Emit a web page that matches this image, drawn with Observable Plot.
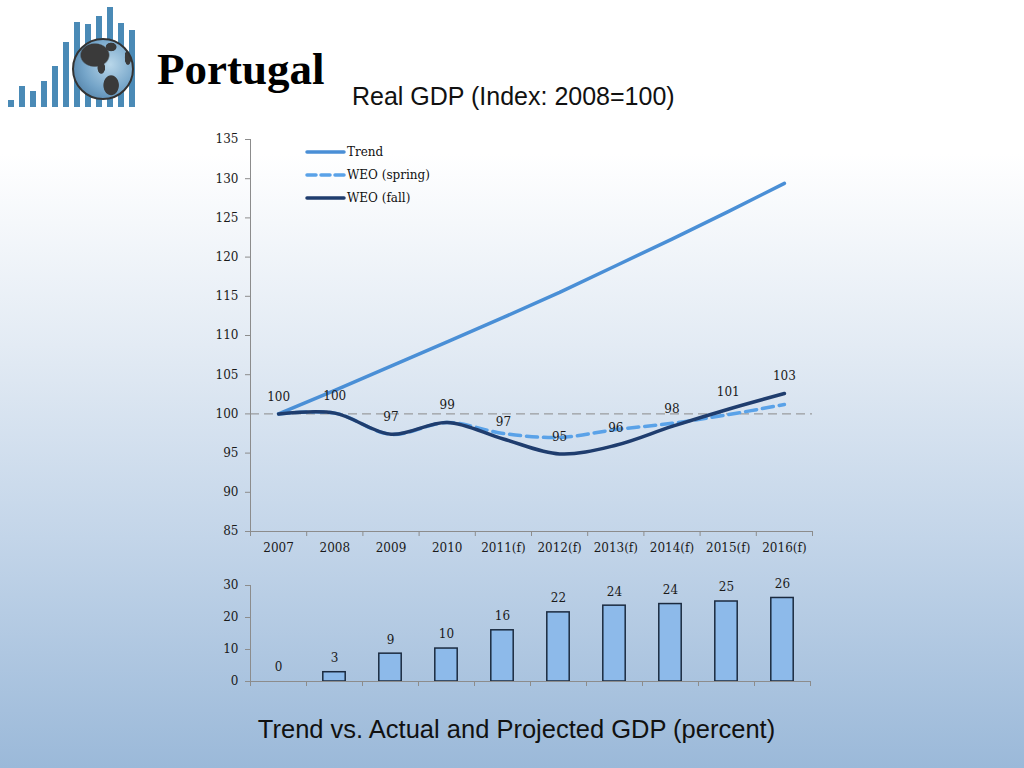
<!DOCTYPE html>
<html><head><meta charset="utf-8">
<script src="https://cdn.jsdelivr.net/npm/d3@7"></script>
<script src="https://cdn.jsdelivr.net/npm/@observablehq/plot@0.6"></script>
<style>
html,body{margin:0;padding:0;}
body{width:1024px;height:768px;position:relative;overflow:hidden;
  background:linear-gradient(to bottom,#ffffff 0%,#ffffff 20%,#e3ebf4 45%,#c3d5e9 70%,#9bb9d9 100%);
  font-family:"DejaVu Serif",serif;}
.abs{position:absolute;}
#title{left:157px;top:43px;font:bold 45px "Liberation Serif",serif;color:#000;line-height:normal;}
#subtitle{left:352px;top:82px;font:25px "Liberation Sans",Arial,sans-serif;color:#111;line-height:normal;}
#caption{left:0;width:1033px;text-align:center;top:715px;font:25.5px "Liberation Sans",Arial,sans-serif;color:#111;line-height:normal;}
#globe{left:72px;top:38px;width:58px;height:58px;border-radius:50%;border:2px solid #333;
  background:
   radial-gradient(ellipse 26% 21% at 36% 26%, #3a3a3a 0 90%, transparent 100%),
   radial-gradient(ellipse 10% 8% at 64% 12%, #3a3a3a 0 85%, transparent 100%),
   radial-gradient(ellipse 7% 11% at 47% 48%, #3a3a3a 0 85%, transparent 100%),
   radial-gradient(ellipse 14% 18% at 64% 78%, #3a3a3a 0 90%, transparent 100%),
   radial-gradient(ellipse 6% 14% at 93% 30%, #3a3a3a 0 85%, transparent 100%),
   radial-gradient(circle at 62% 42%, #b9d7ea 0%, #74a4c8 55%, #43729a 100%);}
#legend{left:305px;top:140px;font:12px "DejaVu Serif",serif;color:#111;}
#legend .row{height:23px;display:flex;align-items:center;}
#legend svg{margin-right:1px;}
</style></head>
<body>
<div id="logo" class="abs" style="left:0;top:0"></div>
<div id="globe" class="abs"></div>
<div id="title" class="abs">Portugal</div>
<div id="subtitle" class="abs">Real GDP (Index: 2008=100)</div>
<div id="main" class="abs" style="left:0;top:120px"></div>
<div id="legend" class="abs"></div>
<div id="bars" class="abs" style="left:0;top:570px"></div>
<div id="caption" class="abs">Trend vs. Actual and Projected GDP (percent)</div>
<script>
const categories = ["2007","2008","2009","2010","2011(f)","2012(f)","2013(f)","2014(f)","2015(f)","2016(f)"];
const trend     = [100, 103.0, 106.1, 109.2, 112.3, 115.5, 118.9, 122.3, 125.8, 129.4];
const weoSpring = [100, 100.1, 97.4, 98.9, 97.5, 97.0, 98.0, 98.8, 99.9, 101.2];
const weoFall   = [100, 100.1, 97.4, 98.9, 96.8, 94.9, 96.0, 98.4, 100.6, 102.6];
const gapPct    = [0, 2.9, 8.7, 10.3, 16.0, 21.6, 23.7, 24.2, 25.0, 26.1];
const lineTicks = [85, 90, 95, 100, 105, 110, 115, 120, 125, 130, 135];
const barTicks  = [0, 10, 20, 30];
const seriesNames = ["Trend", "WEO (spring)", "WEO (fall)"];
const logoHeights = [7, 21, 16, 26, 41, 65, 85, 83, 91, 100, 84, 77];

const colTrend = "#4a8fd6", colSpring = "#5aa2e8", colFall = "#1f3d6e";
const axisCol = "#8c8c8c";

const rows = categories.map((c, i) => ({i, cat: c, trend: trend[i], spring: weoSpring[i], fall: weoFall[i], gap: gapPct[i]}));
const xDomain = [-0.5, categories.length - 0.5];
const bounds = d3.range(categories.length + 1).map(i => i - 0.5);
const centers = d3.range(categories.length);
const baseStyle = {background: "transparent", fontFamily: "DejaVu Serif, serif", fontSize: "12px", color: "#1a1a1a", overflow: "visible"};

const main = Plot.plot({
  width: 860, height: 450, marginLeft: 250, marginRight: 48, marginTop: 19, marginBottom: 39,
  style: baseStyle,
  x: {type: "linear", domain: xDomain, axis: null},
  y: {domain: [85, 135], axis: null},
  marks: [
    Plot.ruleY([100], {stroke: "#8a8a8a", strokeDasharray: "9,5", strokeWidth: 1}),
    Plot.ruleX([xDomain[0]], {y1: 85, y2: 135, stroke: axisCol}),
    Plot.ruleY([85], {stroke: axisCol}),
    Plot.axisY({ticks: lineTicks, tickSize: 5, tickPadding: 7, stroke: axisCol, fill: "#1a1a1a", label: null, fontSize: 12}),
    Plot.axisX({ticks: bounds, tickSize: 5, tickFormat: () => "", stroke: axisCol, label: null}),
    Plot.axisX({ticks: centers, tickSize: 0, tickPadding: 12, tickFormat: i => categories[i], fill: "#1a1a1a", label: null, fontSize: 12}),
    Plot.line(rows, {x: "i", y: "trend", stroke: colTrend, strokeWidth: 3.5}),
    Plot.line(rows, {x: "i", y: "spring", stroke: colSpring, strokeWidth: 3.5, strokeDasharray: "11,6", curve: "catmull-rom"}),
    Plot.line(rows, {x: "i", y: "fall", stroke: colFall, strokeWidth: 3.5, curve: "catmull-rom"}),
    Plot.text(rows, {x: "i", y: "fall", text: d => Math.round(d.fall), dy: -17, fontSize: 12, fill: "#1a1a1a"})
  ]
});
document.getElementById("main").append(main);

const bars = Plot.plot({
  width: 860, height: 130, marginLeft: 250, marginRight: 50, marginTop: 15, marginBottom: 19,
  style: baseStyle,
  x: {type: "linear", domain: xDomain, axis: null},
  y: {domain: [0, 30], axis: null},
  marks: [
    Plot.rectY(rows.filter(d => d.gap > 0), {x1: d => d.i - 0.2, x2: d => d.i + 0.2, y: "gap", fill: "#8dbaea", stroke: "#1b2a3f", strokeWidth: 1.5}),
    Plot.ruleX([xDomain[0]], {y1: 0, y2: 30, stroke: axisCol}),
    Plot.ruleY([0], {stroke: axisCol}),
    Plot.axisY({ticks: barTicks, tickSize: 5, tickPadding: 7, stroke: axisCol, fill: "#1a1a1a", label: null, fontSize: 12}),
    Plot.axisX({ticks: bounds, tickSize: 5, tickFormat: () => "", stroke: axisCol, label: null}),
    Plot.text(rows, {x: "i", y: "gap", text: d => Math.round(d.gap), dy: -14, fontSize: 12, fill: "#1a1a1a"})
  ]
});
document.getElementById("bars").append(bars);

const logo = Plot.plot({
  width: 146, height: 108, marginLeft: 2, marginRight: 4, marginTop: 7, marginBottom: 1,
  style: {background: "transparent", overflow: "visible"},
  x: {type: "band", domain: d3.range(logoHeights.length), padding: 0.45, axis: null},
  y: {domain: [0, 100], axis: null},
  marks: [Plot.barY(logoHeights, {x: (d, i) => i, y: d => d, fill: "#4a8ab6"})]
});
document.getElementById("logo").append(logo);

const legend = document.getElementById("legend");
const styles = [{c: colTrend, dash: null}, {c: colSpring, dash: "9,5"}, {c: colFall, dash: null}];
seriesNames.forEach((name, k) => {
  const row = document.createElement("div");
  row.className = "row";
  const s = styles[k];
  row.innerHTML = `<svg width="41" height="8"><line x1="2" x2="39" y1="4" y2="4" stroke="${s.c}" stroke-width="3.5" stroke-linecap="round" ${s.dash ? `stroke-dasharray="${s.dash}"` : ""}/></svg><span>${name}</span>`;
  legend.append(row);
});
</script>
</body></html>
